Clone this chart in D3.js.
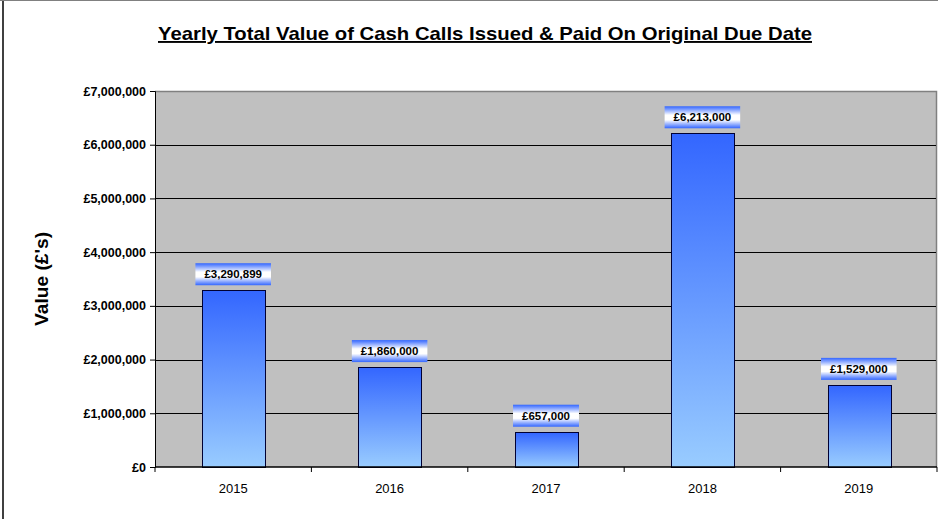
<!DOCTYPE html>
<html lang="en">
<head>
<meta charset="UTF-8">
<title>Yearly Total Value of Cash Calls</title>
<script src="https://cdn.jsdelivr.net/npm/d3@7"></script>
<style>
    body { margin: 0; background: #fff; }
    svg { display: block; font-family: "Liberation Sans", Arial, sans-serif; }
    .yaxis text { font-size: 12.5px; font-weight: bold; fill: #000; }
    .xaxis text { font-size: 13px; fill: #000; }
    .grid line { stroke: #000; stroke-width: 1; }
</style>
</head>
<body>
<script>
    // data
    const years = ["2015", "2016", "2017", "2018", "2019"];
    const values = [3290899, 1860000, 657000, 6213000, 1529000];
    const yTicks = [0, 1000000, 2000000, 3000000, 4000000, 5000000, 6000000, 7000000];

    const W = 938, H = 519;
    const m = { top: 91, right: 1, bottom: 52, left: 155 };

    const svg = d3.select("body").append("svg")
        .attr("width", W)
        .attr("height", H);

    const defs = svg.append("defs");

    // bar gradient: darker blue on top, pale blue below
    const barGrad = defs.append("linearGradient")
        .attr("id", "barGrad").attr("x1", 0).attr("y1", 0).attr("x2", 0).attr("y2", 1);
    barGrad.append("stop").attr("offset", "0%").attr("stop-color", "#3366ff");
    barGrad.append("stop").attr("offset", "100%").attr("stop-color", "#99ccff");

    // label box gradient: blue - white - blue
    const lblGrad = defs.append("linearGradient")
        .attr("id", "lblGrad").attr("x1", 0).attr("y1", 0).attr("x2", 0).attr("y2", 1);
    lblGrad.append("stop").attr("offset", "0%").attr("stop-color", "#3366ff");
    lblGrad.append("stop").attr("offset", "40%").attr("stop-color", "#ffffff");
    lblGrad.append("stop").attr("offset", "62%").attr("stop-color", "#ffffff");
    lblGrad.append("stop").attr("offset", "100%").attr("stop-color", "#3366ff");

    // chart frame
    svg.append("line").attr("x1", 3).attr("x2", 3).attr("y1", 0).attr("y2", H)
        .attr("stroke", "#000").attr("stroke-width", 1.5);
    svg.append("line").attr("x1", 0).attr("x2", W).attr("y1", 0.5).attr("y2", 0.5)
        .attr("stroke", "#808080").attr("stroke-width", 1);

    const x = d3.scaleBand()
        .domain(years)
        .range([m.left, W - m.right])
        .paddingInner(0.6)
        .paddingOuter(0.3);

    const y = d3.scaleLinear()
        .domain([0, 7000000])
        .range([H - m.bottom, m.top]);

    // plot area
    svg.append("rect")
        .attr("x", m.left).attr("y", m.top)
        .attr("width", W - m.right - m.left)
        .attr("height", H - m.bottom - m.top)
        .attr("fill", "#c0c0c0");
    svg.append("path")
        .attr("d", `M${m.left},${m.top + 0.5} H${W - m.right - 0.5} V${H - m.bottom}`)
        .attr("fill", "none").attr("stroke", "#808080").attr("stroke-width", 1.5);

    // gridlines
    svg.append("g").attr("class", "grid")
        .selectAll("line")
        .data(yTicks.slice(1, -1))
        .join("line")
        .attr("x1", m.left).attr("x2", W - m.right - 1)
        .attr("y1", d => Math.round(y(d)) + 0.5)
        .attr("y2", d => Math.round(y(d)) + 0.5);

    // bars
    svg.append("g")
        .selectAll("rect")
        .data(values)
        .join("rect")
        .attr("x", (d, i) => Math.round(x(years[i])) + 0.5)
        .attr("y", d => Math.round(y(d)) + 0.5)
        .attr("width", Math.round(x.bandwidth()))
        .attr("height", d => Math.round(y(0)) - Math.round(y(d)))
        .attr("fill", "url(#barGrad)")
        .attr("stroke", "#000033")
        .attr("stroke-width", 1);

    // y axis
    const yAxis = d3.axisLeft(y)
        .tickValues(yTicks)
        .tickFormat(d => "£" + d3.format(",")(d))
        .tickSizeInner(5)
        .tickSizeOuter(5)
        .tickPadding(4);
    const gy = svg.append("g").attr("class", "yaxis")
        .attr("transform", `translate(${m.left},0)`)
        .call(yAxis);
    gy.selectAll("path, line").attr("stroke", "#000");

    // x axis with ticks at category boundaries
    const gx = svg.append("g").attr("class", "xaxis")
        .attr("transform", `translate(0,${H - m.bottom})`);
    gx.append("line")
        .attr("x1", m.left).attr("x2", W - m.right)
        .attr("stroke", "#000").attr("stroke-width", 1.5);
    gx.selectAll("line.tk")
        .data(d3.range(years.length + 1))
        .join("line").attr("class", "tk")
        .attr("x1", i => m.left + i * x.step())
        .attr("x2", i => m.left + i * x.step())
        .attr("y1", 0).attr("y2", 5)
        .attr("stroke", "#000");
    gx.selectAll("text")
        .data(years)
        .join("text")
        .attr("x", d => x(d) + x.bandwidth() / 2)
        .attr("y", 26)
        .attr("text-anchor", "middle")
        .text(d => d);

    // value labels
    const lbl = svg.append("g")
        .selectAll("g")
        .data(values)
        .join("g")
        .attr("transform", (d, i) => `translate(${x(years[i]) + x.bandwidth() / 2},${y(d) - 16})`);
    lbl.append("text")
        .attr("text-anchor", "middle")
        .attr("dy", "0.36em")
        .attr("font-size", 11.5)
        .attr("font-weight", "bold")
        .text(d => "£" + d3.format(",")(d));
    lbl.each(function () {
        const g = d3.select(this);
        const bb = g.select("text").node().getBBox();
        g.insert("rect", "text")
            .attr("x", bb.x - 9)
            .attr("y", -11)
            .attr("width", bb.width + 18)
            .attr("height", 22)
            .attr("fill", "url(#lblGrad)");
    });

    // y axis title
    svg.append("text")
        .attr("transform", `translate(48,${(m.top + H - m.bottom) / 2}) rotate(-90)`)
        .attr("text-anchor", "middle")
        .attr("font-size", 18)
        .attr("font-weight", "bold")
        .attr("textLength", 94)
        .attr("lengthAdjust", "spacingAndGlyphs")
        .text("Value (£'s)");

    // title
    svg.append("text")
        .attr("x", 485)
        .attr("y", 40)
        .attr("text-anchor", "middle")
        .attr("font-size", 19)
        .attr("font-weight", "bold")
        .attr("text-decoration", "underline")
        .attr("textLength", 654)
        .attr("lengthAdjust", "spacingAndGlyphs")
        .text("Yearly  Total Value of Cash Calls Issued & Paid On Original Due Date");
</script>
</body>
</html>
